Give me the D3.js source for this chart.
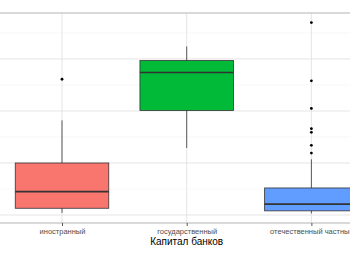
<!DOCTYPE html>
<html>
    <head>
        <meta charset="utf-8" />
        <style>
            body{ margin: 0; background: #fff; }
            svg{ display: block; }
            text{ font-family: "Liberation Sans", Arial, sans-serif; }
        </style>
    </head>
    <body>
        <svg id="boxes" width="350" height="254"></svg>
        <script src="https://cdnjs.cloudflare.com/ajax/libs/d3/7.8.5/d3.min.js"></script>
        <script>
            // categories and box stats
            var categories = ['иностранный', 'государственный', 'отечественный частный'];
            var boxColors = ['#F8766D', '#00BA38', '#619CFF'];
            var whiskerLow = [4, 129, 3];
            var q1 = [13, 201, 8];
            var medians = [45, 274, 21];
            var q3 = [100, 297, 52];
            var whiskerHigh = [182, 324, 107];
            var outliers = [
                [261],
                [],
                [370, 258, 205, 166, 159, 134, 119]
            ];
            var majorTicks = [0, 100, 200, 300];
            var minorTicks = [50, 150, 250, 350];

            var svg = d3.select('#boxes');

            // panel is wider than the picture: it was cropped left and right
            var panelLeft = -12.8, panelRight = 386.2, panelTop = 13, panelBottom = 223;

            var x = d3.scalePoint().domain(categories).range([panelLeft, panelRight]).padding(0.6);
            var boxWidth = x.step() * 0.75;

            var allVals = [];
            categories.forEach(function(c, i){
                allVals.push(whiskerLow[i], whiskerHigh[i]);
                allVals = allVals.concat(outliers[i]);
            });
            var ext = d3.extent(allVals);
            var pad = (ext[1] - ext[0]) * 0.05;
            var y = d3.scaleLinear().domain([ext[0] - pad, ext[1] + pad]).range([panelBottom, panelTop]);

            var g = svg.append('g');

            // grid
            g.selectAll('.minor').data(minorTicks).enter().append('line')
                .attr('class', 'minor')
                .attr('x1', panelLeft).attr('x2', panelRight)
                .attr('y1', function(d){ return y(d); })
                .attr('y2', function(d){ return y(d); })
                .attr('stroke', '#f0f0f0').attr('stroke-width', 0.5);

            g.selectAll('.major').data(majorTicks).enter().append('line')
                .attr('class', 'major')
                .attr('x1', panelLeft).attr('x2', panelRight)
                .attr('y1', function(d){ return y(d); })
                .attr('y2', function(d){ return y(d); })
                .attr('stroke', '#dedede').attr('stroke-width', 0.8);

            g.selectAll('.vgrid').data(categories).enter().append('line')
                .attr('class', 'vgrid')
                .attr('x1', function(d){ return x(d); })
                .attr('x2', function(d){ return x(d); })
                .attr('y1', panelTop).attr('y2', panelBottom)
                .attr('stroke', '#dedede').attr('stroke-width', 0.8);

            // boxes
            var box = g.selectAll('.box').data(categories).enter().append('g')
                .attr('class', 'box');

            box.append('line')
                .attr('x1', function(d){ return x(d); })
                .attr('x2', function(d){ return x(d); })
                .attr('y1', function(d, i){ return y(whiskerLow[i]); })
                .attr('y2', function(d, i){ return y(whiskerHigh[i]); })
                .attr('stroke', '#333').attr('stroke-width', 0.8);

            box.append('rect')
                .attr('x', function(d){ return x(d) - boxWidth / 2; })
                .attr('width', boxWidth)
                .attr('y', function(d, i){ return y(q3[i]); })
                .attr('height', function(d, i){ return y(q1[i]) - y(q3[i]); })
                .attr('fill', function(d, i){ return boxColors[i]; })
                .attr('stroke', '#333').attr('stroke-width', 0.8);

            box.append('line')
                .attr('x1', function(d){ return x(d) - boxWidth / 2; })
                .attr('x2', function(d){ return x(d) + boxWidth / 2; })
                .attr('y1', function(d, i){ return y(medians[i]); })
                .attr('y2', function(d, i){ return y(medians[i]); })
                .attr('stroke', '#333').attr('stroke-width', 1.6);

            box.selectAll('.out').data(function(d, i){
                    return outliers[i].map(function(v){ return {cat: d, v: v}; });
                }).enter().append('circle')
                .attr('class', 'out')
                .attr('cx', function(d){ return x(d.cat); })
                .attr('cy', function(d){ return y(d.v); })
                .attr('r', 1.4)
                .attr('fill', '#000');

            // panel border
            g.append('rect')
                .attr('x', panelLeft).attr('y', panelTop)
                .attr('width', panelRight - panelLeft)
                .attr('height', panelBottom - panelTop)
                .attr('fill', 'none')
                .attr('stroke', '#b3b3b3').attr('stroke-width', 1);

            // x axis
            var xAxis = d3.axisBottom(x).tickSizeOuter(0).tickSize(3).tickPadding(3);
            var ax = g.append('g')
                .attr('transform', 'translate(0,' + panelBottom + ')')
                .call(xAxis);
            ax.select('.domain').remove();
            ax.selectAll('.tick line').attr('stroke', '#555');
            ax.selectAll('.tick text')
                .attr('fill', '#4d4d4d')
                .style('font-size', '7.5px');

            g.append('text')
                .attr('x', (panelLeft + panelRight) / 2)
                .attr('y', 245)
                .attr('text-anchor', 'middle')
                .attr('fill', '#000')
                .style('font-size', '10px')
                .text('Капитал банков');
        </script>
    </body>
</html>
